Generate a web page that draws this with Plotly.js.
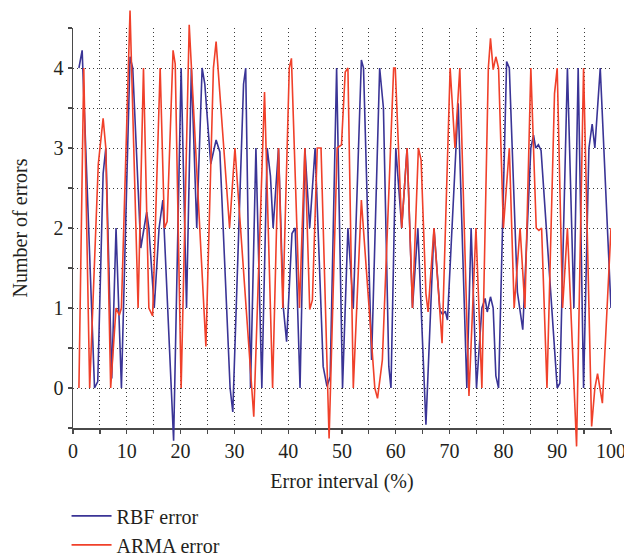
<!DOCTYPE html>
<html>
<head>
<meta charset="utf-8">
<script src="https://cdn.plot.ly/plotly-3.0.1.min.js"></script>
<style>html,body{margin:0;padding:0;background:#fff;}#chart{width:624px;height:558px;}</style>
</head>
<body>
<div id="chart"></div>
<script>
// RBF error series (vertex positions)
var rbfX = [1.1, 1.7, 4.0, 4.6, 5.6, 6.1, 7.2, 8.0, 9.0, 10.6, 11.1, 12.6, 13.7, 14.1, 15.1, 16.0, 16.7, 18.7, 20.1, 21.1, 22.0, 23.0, 24.0, 24.5, 25.6, 26.6, 27.3, 29.2, 29.7, 31.7, 32.1, 33.0, 34.0, 35.1, 36.1, 36.7, 37.2, 38.2, 39.1, 39.7, 40.7, 41.3, 42.2, 43.1, 44.0, 45.0, 46.5, 47.2, 47.8, 49.0, 50.1, 51.1, 52.1, 53.6, 54.0, 55.5, 57.0, 57.7, 58.7, 59.1, 60.0, 61.1, 62.1, 63.1, 64.1, 65.6, 67.1, 68.2, 68.7, 69.2, 69.6, 71.6, 73.2, 74.0, 75.0, 76.0, 76.6, 77.0, 77.6, 78.1, 78.6, 79.1, 80.6, 81.1, 82.6, 83.6, 85.1, 85.6, 86.0, 86.5, 87.0, 90.0, 90.5, 91.9, 93.1, 93.9, 94.9, 95.9, 96.5, 97.0, 98.0, 100.0];
var rbfY = [4.0, 4.22, 0.0, 0.08, 2.68, 3.0, 0.12, 2.0, 0.0, 4.14, 4.0, 1.75, 2.2, 2.0, 1.0, 2.0, 2.35, -0.66, 4.0, 1.0, 4.0, 2.0, 4.0, 3.8, 2.8, 3.1, 2.95, 0.0, -0.3, 3.8, 4.0, 0.0, 3.0, 0.0, 3.0, 2.65, 2.0, 3.0, 1.0, 0.58, 1.93, 2.0, 0.0, 3.0, 2.0, 3.0, 0.27, 0.02, 0.14, 4.0, 0.0, 2.0, 1.0, 4.1, 4.0, 0.35, 4.0, 3.5, 0.27, 0.0, 3.0, 2.0, 3.0, 1.0, 2.0, -0.46, 2.0, 0.97, 0.92, 0.96, 0.85, 3.56, 0.0, 2.0, 0.0, 1.0, 1.12, 0.95, 1.14, 1.0, 0.15, 0.0, 4.08, 4.0, 1.2, 0.73, 3.0, 3.16, 3.0, 3.04, 2.97, 0.0, 0.06, 4.0, 1.0, 4.0, 0.0, 3.0, 3.3, 3.0, 4.0, 1.0];

// ARMA error series
var armaX = [1.1, 2.0, 3.1, 4.7, 5.6, 6.1, 7.0, 8.0, 8.6, 9.0, 10.6, 12.1, 13.1, 14.1, 14.8, 16.2, 17.0, 17.5, 18.6, 19.0, 20.1, 21.6, 24.7, 26.1, 26.6, 29.1, 30.1, 33.6, 35.6, 37.1, 38.2, 39.0, 40.2, 40.6, 42.1, 43.1, 44.0, 44.5, 45.4, 46.1, 47.6, 49.1, 49.9, 50.6, 51.1, 52.1, 53.6, 56.1, 56.6, 57.5, 59.6, 59.9, 61.1, 62.1, 63.1, 64.2, 64.7, 65.6, 66.0, 67.1, 68.6, 70.1, 71.0, 71.9, 73.6, 74.9, 76.0, 77.2, 77.6, 78.1, 78.6, 79.1, 80.0, 81.1, 82.0, 83.1, 84.0, 85.1, 86.1, 86.6, 87.1, 88.1, 89.5, 90.0, 91.0, 91.9, 93.6, 94.9, 96.4, 97.0, 97.5, 98.4, 100.0];
var armaY = [0.0, 4.0, 0.0, 2.8, 3.37, 3.0, 0.0, 1.0, 0.91, 1.0, 4.72, 1.0, 4.0, 1.0, 0.9, 4.0, 2.0, 2.08, 4.22, 4.05, 0.0, 4.54, 0.52, 4.0, 4.33, 2.0, 3.0, -0.36, 3.7, 0.0, 3.0, 1.0, 4.0, 4.12, 1.0, 3.0, 0.98, 1.1, 3.0, 3.0, -0.63, 3.0, 3.04, 3.95, 4.0, 0.0, 2.35, 0.0, -0.13, 0.35, 4.0, 4.0, 2.0, 3.0, 1.0, 3.0, 2.85, 1.18, 0.95, 2.0, 0.56, 4.0, 3.0, 4.0, -0.1, 2.0, 0.0, 4.0, 4.37, 3.98, 4.14, 4.0, 2.0, 3.0, 1.0, 2.0, 1.0, 4.0, 2.0, 1.97, 2.0, 0.0, 3.68, 4.0, 1.0, 2.0, -0.73, 4.0, -0.48, 0.0, 0.18, -0.19, 2.0];

var seriesNames = ['RBF error', 'ARMA error'];
var xTitle = 'Error interval (%)';
var yTitle = 'Number of errors';

var FONT = 'Liberation Serif, Times New Roman, serif';
var TXT = '#231f20';
var AX = '#4a4a4a';
var GRID = '#3a3a3a';
var DOT = '1px,3px';

// data subplot range (slightly larger than the visible axes so peaks can overshoot)
var yLo = -0.75, yHi = 4.75, yMin = -0.5, yMax = 4.5;
var yDom = [(yMin - yLo) / (yHi - yLo), (yMax - yLo) / (yHi - yLo)];

var traces = [
  {x: [], y: [], xaxis: 'x', yaxis: 'y', showlegend: false, hoverinfo: 'skip', mode: 'lines'},
  {x: rbfX, y: rbfY, xaxis: 'x2', yaxis: 'y2', mode: 'lines', name: seriesNames[0],
   line: {color: '#3a3496', width: 1.6}},
  {x: armaX, y: armaY, xaxis: 'x2', yaxis: 'y2', mode: 'lines', name: seriesNames[1],
   line: {color: '#f0402a', width: 1.6}}
];

var layout = {
  width: 624, height: 558,
  margin: {l: 73, r: 13, t: 8, b: 110, autoexpand: false},
  paper_bgcolor: '#ffffff',
  plot_bgcolor: 'rgba(0,0,0,0)',
  font: {family: FONT, size: 20, color: TXT},
  showlegend: true,
  legend: {
    orientation: 'v', x: -0.012, xanchor: 'left', y: -0.11, yanchor: 'top',
    font: {family: FONT, size: 20, color: TXT}, itemwidth: 40,
    bgcolor: 'rgba(0,0,0,0)', tracegroupgap: 0
  },
  xaxis: {
    domain: [0, 1], range: [0, 100], anchor: 'y', automargin: false,
    tick0: 0, dtick: 10, ticks: 'outside', ticklen: 4, tickwidth: 1.2, tickcolor: AX,
    ticklabeloverflow: 'allow',
    showline: true, linecolor: AX, linewidth: 1.5, zeroline: false,
    showgrid: true, gridcolor: GRID, gridwidth: 1, griddash: DOT,
    minor: {dtick: 5, tick0: 0, ticks: 'outside', ticklen: 4, tickcolor: AX, tickwidth: 1.2,
            showgrid: true, gridcolor: GRID, gridwidth: 1, griddash: DOT},
    tickfont: {family: FONT, size: 20, color: TXT},
    title: {text: xTitle, font: {family: FONT, size: 20, color: TXT}, standoff: 13},
    fixedrange: true
  },
  yaxis: {
    domain: yDom, range: [yMin, yMax], anchor: 'x', automargin: false,
    tick0: 0, dtick: 1, ticks: 'outside', ticklen: 4, tickwidth: 1.2, tickcolor: AX,
    showline: true, linecolor: AX, linewidth: 1.5, zeroline: false,
    showgrid: true, gridcolor: GRID, gridwidth: 1, griddash: DOT,
    minor: {dtick: 0.5, tick0: 0, ticks: 'outside', ticklen: 4, tickcolor: AX, tickwidth: 1.2,
            showgrid: true, gridcolor: GRID, gridwidth: 1, griddash: DOT},
    tickfont: {family: FONT, size: 20, color: TXT},
    title: {text: yTitle, font: {family: FONT, size: 20, color: TXT}, standoff: 20},
    fixedrange: true
  },
  xaxis2: {domain: [0, 1], range: [0, 100], anchor: 'y2', visible: false, fixedrange: true},
  yaxis2: {domain: [0, 1], range: [yLo, yHi], anchor: 'x2', visible: false, fixedrange: true}
};

Plotly.newPlot('chart', traces, layout, {displayModeBar: false, staticPlot: true});
</script>
</body>
</html>
